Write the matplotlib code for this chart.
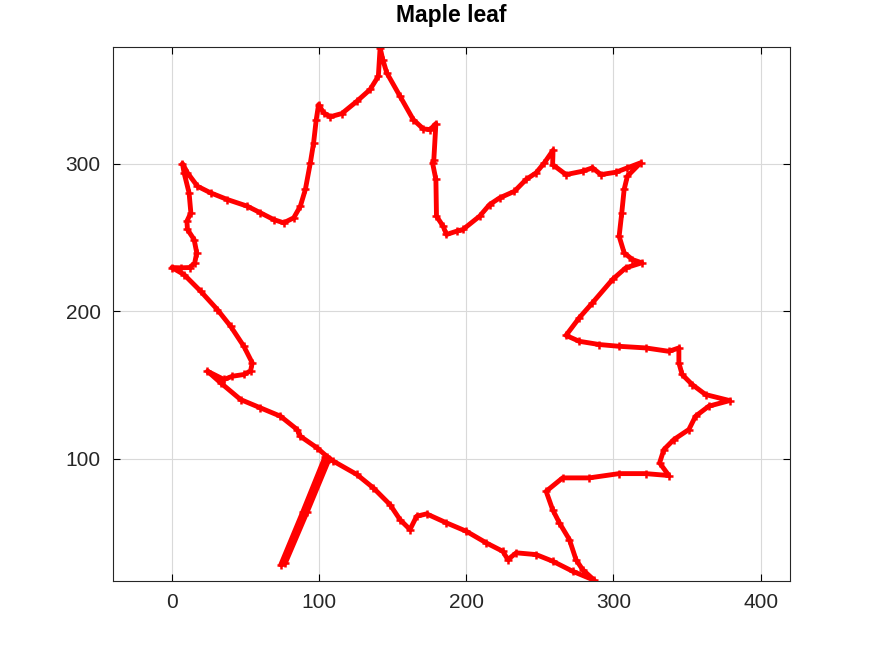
"""Maple leaf outline, Octave-style plot (red line with '+' markers)."""
import matplotlib

matplotlib.use("Agg")
import matplotlib.pyplot as plt

# --- data: outline --------------------------------------------------------
leaf_x = [
    104, 89, 74, 77, 92, 107,
    98.6, 87.3, 85.1, 73.8, 60.2, 46.7, 33.2, 24.2,
    35.4, 41.1, 49.0, 53.5, 54.6, 48.9, 39.9, 30.9, 19.6, 8.3, 0,
    6.1, 12.0, 15.5, 16.9, 15.1, 10.6, 10.2, 12.9, 11.7, 8.3, 7.2,
    10.6, 17.4, 26.4, 37.7, 51.2, 60.2, 69.2, 76.0, 82.8, 87.3, 90.7, 94.1,
    96.3, 98.1, 99.7, 103.1, 107.6, 115.5, 125.7, 134.7, 140.3, 141.5,
    143.3, 146.0, 155.0, 164.0, 170.8, 175.5, 179.4, 178.0, 177.1, 179.4, 179.8,
    184.3, 186.6, 193.4, 197.8, 209.1, 215.9, 222.7, 232.8, 240.7, 247.5,
    253.1, 259.0, 258.7, 267.8, 279.1, 285.8, 291.5, 301.7, 309.5, 318.5,
    309.5, 307.3, 305.7, 303.9, 307.3, 312.9, 319.3, 308.4, 299.4, 285.8,
    276.8, 267.8, 276.8, 290.4, 303.9, 322.0, 337.7, 344.5, 344.5, 346.7,
    353.5, 362.6, 379.0, 364.8, 355.8, 351.3, 341.1, 334.3, 331.4, 337.7,
    321.9, 303.9, 283.6, 265.5, 254.3, 258.7, 263.3, 270.1, 274.6, 279.1,
    287.0, 272.3, 258.8, 247.5, 234.0, 228.3, 224.9, 213.7, 200.1, 186.6,
    173.1, 166.3, 161.8, 155.0, 148.2, 136.9, 125.7, 109.8, 105.4,
]
leaf_y = [
    101, 64, 28, 29, 64, 100,
    107.3, 115.1, 119.7, 128.7, 134.4, 140.0, 151.3, 159.2,
    153.6, 155.8, 157.0, 159.5, 164.9, 176.1, 189.7, 201.0, 213.4, 224.7, 229.5,
    229.3, 229.5, 232.5, 239.5, 248.5, 255.3, 260.9, 266.6, 280.1, 293.7, 300.0,
    293.7, 284.6, 280.1, 275.6, 271.1, 266.6, 262.0, 259.8, 263.2, 271.1, 282.4, 300.5,
    314.0, 329.8, 340.0, 334.4, 331.7, 333.9, 342.2, 350.2, 359.2, 378.5,
    370.5, 361.5, 345.6, 329.8, 323.5, 323.0, 327.1, 302.7, 300.5, 289.2, 264.3,
    257.5, 251.9, 254.1, 255.3, 264.3, 272.2, 276.7, 281.2, 289.2, 293.7,
    300.5, 309.0, 299.3, 292.5, 294.8, 297.1, 292.5, 294.1, 297.1, 300.5,
    291.4, 282.4, 266.6, 250.7, 239.5, 234.9, 232.7, 229.3, 221.4, 205.6,
    195.4, 183.5, 179.5, 177.3, 176.1, 175.0, 172.7, 175.0, 164.9, 157.0,
    150.2, 143.4, 139.3, 135.5, 128.7, 119.7, 112.9, 106.1, 97.1, 88.5,
    89.8, 89.8, 86.9, 86.9, 77.8, 65.4, 56.4, 45.1, 31.5, 24.7,
    17.5, 23.6, 30.4, 34.9, 36.1, 31.5, 37.1, 42.8, 50.7, 56.4,
    62.5, 60.9, 51.9, 58.6, 68.8, 80.1, 89.2, 98.2, 101.0,
]
x_ticks = [0, 100, 200, 300, 400]
y_ticks = [100, 200, 300]
TITLE = "Maple leaf"
# ---------------------------------------------------------------------------

plt.rcParams["font.family"] = ["Liberation Sans", "DejaVu Sans"]

fig = plt.figure(figsize=(8.72, 6.54), dpi=100)
ax = fig.add_axes([113 / 872, 1 - 581 / 654, (790 - 113) / 872, (581 - 47) / 654])

ax.plot(leaf_x, leaf_y, color="red", lw=3.5, marker="+", ms=6, mew=1.8,
        solid_joinstyle="round", solid_capstyle="round")

ax.set_xlim(-40, 420)
ax.set_ylim(17, 379)
ax.set_xticks(x_ticks)
ax.set_yticks(y_ticks)
ax.grid(True, color="#d9d9d9", lw=0.8)
ax.set_axisbelow(True)
ax.tick_params(direction="in", top=True, right=True, length=5, width=0.8,
               labelsize=15, labelcolor="#262626", pad=9)
for spine in ax.spines.values():
    spine.set_linewidth(0.8)
    spine.set_color("#262626")

ax.set_title(TITLE, fontsize=16.5, fontweight="bold", pad=18)

fig.savefig("out.png", dpi=100)
